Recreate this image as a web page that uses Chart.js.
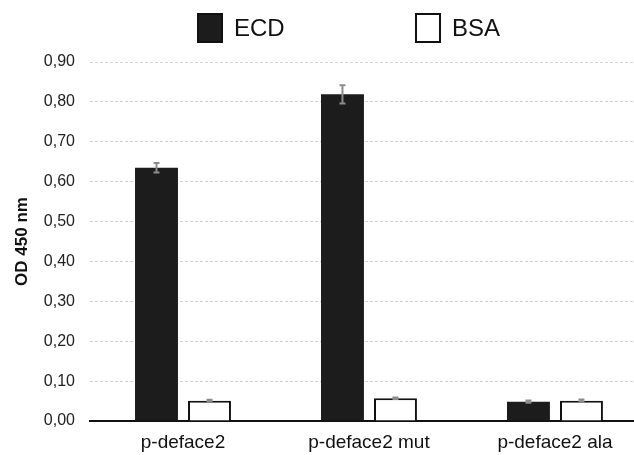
<!DOCTYPE html>
<html>
<head>
<meta charset="utf-8">
<script src="https://cdn.jsdelivr.net/npm/chart.js@4/dist/chart.umd.min.js"></script>
<style>
  html, body { margin: 0; padding: 0; background: #ffffff; overflow: hidden; }
  #wrap { width: 634px; height: 455px; position: relative; }
</style>
</head>
<body>
<div id="wrap"><canvas id="c" width="634" height="455"></canvas></div>
<script>
const categories = ['p-deface2', 'p-deface2 mut', 'p-deface2 ala'];
const seriesNames = ['ECD', 'BSA'];
const ecdValues = [0.635, 0.819, 0.0485];
const ecdErrors = [0.012, 0.023, 0.003];
const bsaValues = [0.051, 0.057, 0.051];
const bsaErrors = [0.002, 0.002, 0.003];
const yTickValues = [0, 0.1, 0.2, 0.3, 0.4, 0.5, 0.6, 0.7, 0.8, 0.9];

const FONT = '"Liberation Sans", Arial, Helvetica, sans-serif';

const errorBarPlugin = {
  id: 'errorBars',
  afterDatasetsDraw(chart) {
    const ctx = chart.ctx;
    const yScale = chart.scales.y;
    const errs = [ecdErrors, bsaErrors];
    const vals = [ecdValues, bsaValues];
    ctx.save();
    ctx.strokeStyle = '#8c8c8c';
    ctx.lineWidth = 2;
    chart.data.datasets.forEach((ds, i) => {
      const meta = chart.getDatasetMeta(i);
      meta.data.forEach((bar, j) => {
        const v = vals[i][j], e = errs[i][j];
        const x = bar.x;
        const yt = yScale.getPixelForValue(v + e);
        const yb = yScale.getPixelForValue(v - e);
        ctx.beginPath();
        ctx.moveTo(x, yt); ctx.lineTo(x, yb);
        ctx.moveTo(x - 3, yt); ctx.lineTo(x + 3, yt);
        ctx.moveTo(x - 3, yb); ctx.lineTo(x + 3, yb);
        ctx.stroke();
      });
    });
    ctx.restore();
  }
};

const legendPlugin = {
  id: 'customLegend',
  afterDraw(chart, args, opts) {
    const ctx = chart.ctx;
    ctx.save();
    ctx.font = '24px ' + FONT;
    ctx.textBaseline = 'middle';
    ctx.textAlign = 'left';
    chart.data.datasets.forEach((ds, i) => {
      const it = opts.items[i];
      ctx.fillStyle = ds.backgroundColor;
      ctx.fillRect(it.x, opts.top, opts.boxW, opts.boxH);
      ctx.lineWidth = 2;
      ctx.strokeStyle = '#111111';
      ctx.strokeRect(it.x + 1, opts.top + 1, opts.boxW - 2, opts.boxH - 2);
      ctx.fillStyle = '#111111';
      ctx.fillText(ds.label, it.x + opts.boxW + 11, opts.top + opts.boxH / 2 + 1);
    });
    ctx.restore();
  }
};

new Chart(document.getElementById('c'), {
  type: 'bar',
  data: {
    datasets: [
      {
        label: seriesNames[0],
        data: ecdValues.map((v, i) => ({ x: i, y: v })),
        backgroundColor: '#1c1c1c',
        borderColor: '#1c1c1c',
        borderWidth: 0
      },
      {
        label: seriesNames[1],
        data: bsaValues.map((v, i) => ({ x: i, y: v })),
        backgroundColor: '#ffffff',
        borderColor: '#111111',
        borderWidth: 2,
        borderSkipped: 'bottom'
      }
    ]
  },
  options: {
    responsive: false,
    animation: false,
    categoryPercentage: 0.57,
    barPercentage: 0.81,
    layout: { padding: { top: 62, left: 0, right: 0, bottom: 0 } },
    plugins: {
      legend: { display: false },
      tooltip: { enabled: false },
      customLegend: {
        top: 13, boxW: 26, boxH: 30,
        items: [{ x: 197 }, { x: 415 }]
      }
    },
    scales: {
      x: {
        type: 'linear',
        offset: false,
        min: -0.5,
        max: 2.425,
        grid: { display: false, drawTicks: false, offset: false },
        border: { display: true, color: '#111111', width: 2 },
        ticks: {
          stepSize: 1,
          includeBounds: false,
          autoSkip: false,
          maxRotation: 0,
          padding: 10,
          color: '#111111',
          font: { family: FONT, size: 19 },
          callback: (v) => Number.isInteger(v) && categories[v] !== undefined ? categories[v] : ''
        },
        afterFit: (s) => { s.height = 34; }
      },
      y: {
        min: 0,
        max: 0.9,
        afterBuildTicks: (s) => { s.ticks = yTickValues.map(v => ({ value: v })); },
        grid: {
          drawTicks: false,
          color: (c) => c.tick && c.tick.value === 0 ? 'rgba(0,0,0,0)' : '#d2d2d2',
          lineWidth: 1
        },
        border: { display: false, dash: [3, 2] },
        ticks: {
          padding: 15,
          color: '#222222',
          font: { family: FONT, size: 16 },
          callback: (v) => v.toFixed(2).replace('.', ',')
        },
        title: {
          display: true,
          text: 'OD 450 nm',
          color: '#111111',
          font: { family: FONT, size: 17, weight: 'bold' },
          padding: { top: 12, bottom: 0 }
        },
        afterFit: (s) => { s.width = 90; }
      }
    }
  },
  plugins: [errorBarPlugin, legendPlugin]
});
</script>
</body>
</html>
